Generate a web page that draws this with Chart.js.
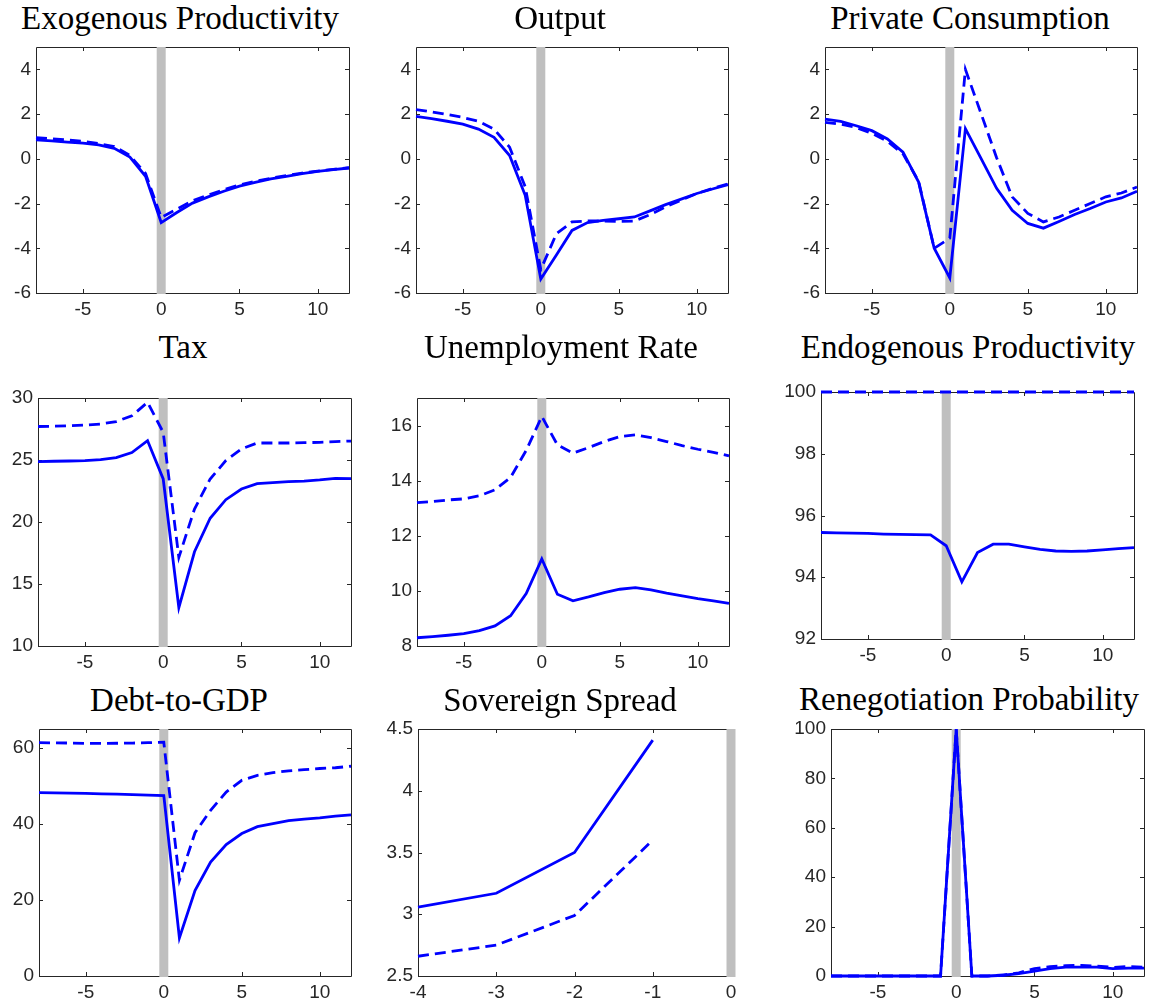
<!DOCTYPE html>
<html>
<head>
<meta charset="utf-8">
<script src="https://cdn.jsdelivr.net/npm/chart.js@4.4.1/dist/chart.umd.min.js"></script>
<style>
  html, body { margin: 0; padding: 0; background: #fff; }
  body { width: 1152px; height: 1008px; overflow: hidden; position: relative; }
  canvas { position: absolute; }
  .title {
    position: absolute;
    width: 400px;
    text-align: center;
    font-family: 'Liberation Serif', 'Times New Roman', serif;
    font-size: 33px;
    line-height: 33px;
    color: #000;
    white-space: nowrap;
  }
</style>
</head>
<body>
<script>
// horizon (quarters around the event)
const periods = [-8, -7, -6, -5, -4, -3, -2, -1, 0, 1, 2, 3, 4, 5, 6, 7, 8, 9, 10, 11, 12];
const spreadPeriods = [-4, -3, -2, -1];

// tick labels
const xTicksMain = [-5, 0, 5, 10];
const xTicksSpread = [-4, -3, -2, -1, 0];
const yTicksPct = [-6, -4, -2, 0, 2, 4];
const yTicksTax = [10, 15, 20, 25, 30];
const yTicksUnemp = [8, 10, 12, 14, 16];
const yTicksEndo = [92, 94, 96, 98, 100];
const yTicksDebt = [0, 20, 40, 60];
const yTicksSpread = [2.5, 3, 3.5, 4, 4.5];
const yTicksReneg = [0, 20, 40, 60, 80, 100];

// solid = model, dashed = counterfactual
const exoSolid = [0.85, 0.80, 0.75, 0.70, 0.62, 0.47, 0.08, -0.78, -2.85, -2.40, -1.98, -1.70, -1.45, -1.22, -1.05, -0.90, -0.78, -0.66, -0.56, -0.48, -0.41];
const exoDashed = [0.95, 0.90, 0.84, 0.78, 0.68, 0.55, 0.15, -0.66, -2.62, -2.25, -1.88, -1.62, -1.38, -1.17, -1.00, -0.87, -0.75, -0.64, -0.55, -0.47, -0.40];

const outSolid = [1.90, 1.80, 1.68, 1.55, 1.33, 0.96, 0.15, -1.63, -5.38, -4.30, -3.20, -2.85, -2.75, -2.68, -2.60, -2.33, -2.05, -1.80, -1.55, -1.35, -1.15];
const outDashed = [2.20, 2.10, 1.98, 1.85, 1.68, 1.33, 0.52, -1.25, -4.95, -3.35, -2.82, -2.78, -2.78, -2.80, -2.78, -2.50, -2.15, -1.85, -1.55, -1.33, -1.12];

const conSolid = [1.78, 1.67, 1.48, 1.26, 0.89, 0.30, -1.04, -4.00, -5.33, 1.35, 0.02, -1.32, -2.30, -2.89, -3.10, -2.80, -2.49, -2.22, -1.93, -1.75, -1.45];
const conDashed = [1.63, 1.55, 1.40, 1.14, 0.78, 0.22, -1.00, -4.00, -3.55, 4.00, 2.03, 0.05, -1.70, -2.44, -2.82, -2.60, -2.30, -2.00, -1.70, -1.53, -1.26];

const taxSolid = [24.87, 24.90, 24.92, 24.95, 25.03, 25.20, 25.60, 26.56, 23.47, 13.10, 17.60, 20.30, 21.80, 22.66, 23.10, 23.17, 23.25, 23.30, 23.39, 23.52, 23.50];
const taxDashed = [27.70, 27.72, 27.77, 27.82, 27.90, 28.10, 28.57, 29.65, 27.23, 17.15, 21.05, 23.47, 24.95, 25.90, 26.37, 26.37, 26.37, 26.40, 26.42, 26.48, 26.53];

const unSolid = [8.30, 8.34, 8.39, 8.45, 8.56, 8.73, 9.10, 9.90, 11.16, 9.88, 9.64, 9.78, 9.94, 10.06, 10.12, 10.04, 9.92, 9.82, 9.72, 9.64, 9.55];
const unDashed = [13.20, 13.24, 13.30, 13.34, 13.45, 13.67, 14.12, 15.10, 16.33, 15.30, 15.00, 15.20, 15.42, 15.60, 15.66, 15.56, 15.42, 15.27, 15.14, 15.03, 14.90];

const endoSolid = [95.45, 95.44, 95.43, 95.42, 95.40, 95.39, 95.38, 95.37, 95.02, 93.85, 94.80, 95.07, 95.07, 94.98, 94.90, 94.85, 94.84, 94.85, 94.89, 94.93, 94.96];
const endoDashed = [100, 100, 100, 100, 100, 100, 100, 100, 100, 100, 100, 100, 100, 100, 100, 100, 100, 100, 100, 100, 100];

const debtSolid = [48.25, 48.20, 48.15, 48.05, 47.95, 47.85, 47.75, 47.60, 47.50, 10.00, 22.50, 30.00, 34.60, 37.50, 39.30, 40.10, 40.90, 41.30, 41.60, 42.10, 42.40];
const debtDashed = [61.40, 61.35, 61.30, 61.20, 61.20, 61.25, 61.30, 61.40, 61.50, 25.20, 37.70, 43.60, 48.40, 51.50, 52.80, 53.50, 54.00, 54.30, 54.60, 54.80, 55.20];

const spreadSolid = [3.057, 3.17, 3.50, 4.41];
const spreadDashed = [2.66, 2.75, 2.99, 3.60];

const renSolid = [0, 0, 0, 0, 0, 0, 0, 0, 100, 0, 0, 0.3, 1.0, 2.0, 3.0, 3.6, 3.6, 3.6, 3.0, 3.2, 3.2];
const renDashed = [0, 0, 0, 0, 0, 0, 0, 0, 100, 0, 0, 0.4, 1.3, 3.0, 3.8, 4.2, 4.3, 4.0, 3.5, 3.8, 3.6];

// panel list: data + where each axes box sits on the page
const panels = [
  { title: 'Exogenous Productivity', xs: periods, solid: exoSolid, dashed: exoDashed, x: [-8, 12], xTicks: xTicksMain, y: [-6, 5], yTicks: yTicksPct, box: [36, 47, 349, 293], cx: 180, base: 30 },
  { title: 'Output', xs: periods, solid: outSolid, dashed: outDashed, x: [-8, 12], xTicks: xTicksMain, y: [-6, 5], yTicks: yTicksPct, box: [416, 47, 728, 293], cx: 560, base: 30 },
  { title: 'Private Consumption', xs: periods, solid: conSolid, dashed: conDashed, x: [-8, 12], xTicks: xTicksMain, y: [-6, 5], yTicks: yTicksPct, box: [825, 47, 1137, 293], cx: 970, base: 30 },
  { title: 'Tax', xs: periods, solid: taxSolid, dashed: taxDashed, x: [-8, 12], xTicks: xTicksMain, y: [10, 30], yTicks: yTicksTax, box: [38, 398, 351, 646], cx: 183, base: 359 },
  { title: 'Unemployment Rate', xs: periods, solid: unSolid, dashed: unDashed, x: [-8, 12], xTicks: xTicksMain, y: [8, 17], yTicks: yTicksUnemp, box: [417, 398, 729, 646], cx: 561, base: 359 },
  { title: 'Endogenous Productivity', xs: periods, solid: endoSolid, dashed: endoDashed, x: [-8, 12], xTicks: xTicksMain, y: [92, 100], yTicks: yTicksEndo, box: [821, 392, 1134, 639], cx: 968, base: 359 },
  { title: 'Debt-to-GDP', xs: periods, solid: debtSolid, dashed: debtDashed, x: [-8, 12], xTicks: xTicksMain, y: [0, 65], yTicks: yTicksDebt, box: [39, 729, 351, 976], cx: 179, base: 712 },
  { title: 'Sovereign Spread', xs: spreadPeriods, solid: spreadSolid, dashed: spreadDashed, x: [-4, 0], xTicks: xTicksSpread, y: [2.5, 4.5], yTicks: yTicksSpread, box: [418, 729, 731, 976], cx: 560, base: 712 },
  { title: 'Renegotiation Probability', xs: periods, solid: renSolid, dashed: renDashed, x: [-8, 12], xTicks: xTicksMain, y: [0, 100], yTicks: yTicksReneg, box: [831, 729, 1144, 976], cx: 969, base: 711 }
];

const AXIS_W = 46;   // room for y tick labels
const AXIS_H = 30;   // room for x tick labels
const PAD = 14;      // room above / right of the axes box
const axisColor = '#262626';

// matlab style box with inward ticks on all four sides
const boxTicks = {
  id: 'boxTicks',
  beforeDatasetsDraw(chart) {
    const { ctx, chartArea: a, scales } = chart;
    const len = 4;
    ctx.save();
    ctx.strokeStyle = axisColor;
    ctx.lineWidth = 1;
    ctx.beginPath();
    ctx.rect(Math.round(a.left) + 0.5, Math.round(a.top) + 0.5, Math.round(a.right - a.left), Math.round(a.bottom - a.top));
    scales.x.ticks.forEach(t => {
      const px = Math.round(scales.x.getPixelForValue(t.value)) + 0.5;
      ctx.moveTo(px, a.bottom); ctx.lineTo(px, a.bottom - len);
      ctx.moveTo(px, a.top); ctx.lineTo(px, a.top + len);
    });
    scales.y.ticks.forEach(t => {
      const py = Math.round(scales.y.getPixelForValue(t.value)) + 0.5;
      ctx.moveTo(a.left, py); ctx.lineTo(a.left + len, py);
      ctx.moveTo(a.right, py); ctx.lineTo(a.right - len, py);
    });
    ctx.stroke();
    ctx.restore();
  }
};

// grey event bar at t = 0, over the box but under the lines
const eventBar = {
  id: 'eventBar',
  beforeDatasetsDraw(chart) {
    const { ctx, chartArea, scales } = chart;
    const x0 = scales.x.getPixelForValue(0);
    ctx.save();
    ctx.fillStyle = '#bfbfbf';
    ctx.fillRect(x0 - 4.5, chartArea.top, 9, chartArea.bottom - chartArea.top + 1);
    ctx.restore();
  }
};

function line(xs, ys, dashed) {
  return {
    data: xs.map((x, i) => ({ x: x, y: ys[i] })),
    borderColor: '#0000ff',
    borderWidth: 2.8,
    borderDash: dashed ? [11, 6] : [],
    pointRadius: 0,
    tension: 0,
    fill: false,
    clip: 4
  };
}

panels.forEach(p => {
  const [L, T, R, B] = p.box;
  const left = L - AXIS_W;
  const top = T - PAD;
  const width = R - left + PAD;
  const height = B - top + AXIS_H;

  // title as html text, centred at cx with its baseline at p.base
  const t = document.createElement('div');
  t.className = 'title';
  t.textContent = p.title;
  t.style.left = (p.cx - 200) + 'px';
  t.style.top = (p.base - 27.6) + 'px';
  document.body.appendChild(t);

  const cv = document.createElement('canvas');
  cv.width = width;
  cv.height = height;
  cv.style.left = left + 'px';
  cv.style.top = top + 'px';
  cv.style.width = width + 'px';
  cv.style.height = height + 'px';
  document.body.appendChild(cv);

  const tickFont = { family: "'Liberation Sans', Arial, sans-serif", size: 19 };

  new Chart(cv.getContext('2d'), {
    type: 'line',
    data: { datasets: [line(p.xs, p.solid, false), line(p.xs, p.dashed, true)] },
    options: {
      responsive: false,
      animation: false,
      layout: { padding: { left: 0, right: PAD, top: PAD, bottom: 0 } },
      plugins: {
        legend: { display: false },
        tooltip: { enabled: false },
        title: { display: false }
      },
      scales: {
        x: {
          type: 'linear',
          min: p.x[0],
          max: p.x[1],
          grid: { display: false, drawTicks: false },
          border: { display: false },
          afterBuildTicks: s => { s.ticks = p.xTicks.map(v => ({ value: v })); },
          afterFit: s => { s.height = AXIS_H; s.paddingLeft = 0; s.paddingRight = 0; },
          ticks: { color: axisColor, font: tickFont, padding: 5, autoSkip: false, maxRotation: 0, callback: v => String(v) }
        },
        y: {
          type: 'linear',
          min: p.y[0],
          max: p.y[1],
          grid: { display: false, drawTicks: false },
          border: { display: false },
          afterBuildTicks: s => { s.ticks = p.yTicks.map(v => ({ value: v })); },
          afterFit: s => { s.width = AXIS_W; s.paddingTop = 0; s.paddingBottom = 0; },
          ticks: { color: axisColor, font: tickFont, padding: 5, autoSkip: false, callback: v => String(v) }
        }
      }
    },
    plugins: [boxTicks, eventBar]
  });
});
</script>
</body>
</html>
